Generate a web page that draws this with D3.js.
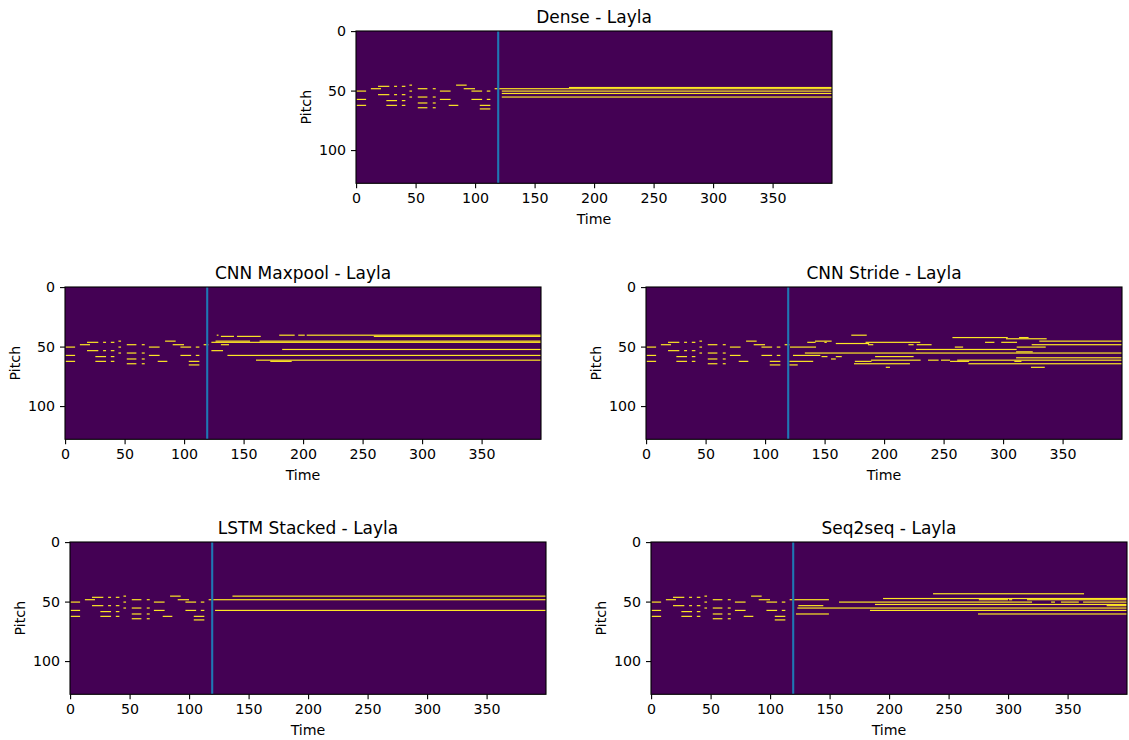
<!DOCTYPE html>
<html lang="en">
<head>
	<meta charset="UTF-8"/>
	<title>Layla piano rolls</title>
	<style type="text/css">
		html, body {
			margin: 0;
			background: #ffffff;
		}
		svg {
			display: block;
			font-family: "DejaVu Sans", sans-serif;
		}
		.tick text {
			font-size: 14.2px;
			fill: #000000;
		}
		.axis_label {
			font-size: 14.2px;
		}
		.chart_title {
			font-size: 17px;
		}
	</style>
</head>
<body>
	<svg id="chart" width="1129" height="740"></svg>
<script src="https://d3js.org/d3.v7.min.js"></script>
<script type="text/javascript">
	const timeTicks = [0, 50, 100, 150, 200, 250, 300, 350];
	const pitchTicks = [0, 50, 100];
	const seedEnd = 119;

	// notes are [pitch, start, end]
	const seedNotes = [
		[50, 0, 8], [57, 0, 8], [62, 0, 8], [48, 12, 20.5], [46, 18, 27.5], [53, 18, 27.5],
		[58, 25, 34], [62, 25, 34], [46, 31.5, 34], [53, 31.5, 34],
		[46, 38, 41], [53, 38, 41], [58, 38, 41], [62, 38, 41],
		[45, 44.4, 46.6], [50, 44.4, 46.6], [55, 44.4, 46.6],
		[48, 51.4, 59.5], [55, 51.4, 59.5], [60, 51.4, 59.5], [64, 51.4, 59.5],
		[48, 64, 66.5], [55, 64, 66.5], [60, 64, 66.5], [64, 64, 66.5],
		[50, 70, 79], [57, 70, 79], [62, 77.4, 85.5], [45, 83.6, 92.5], [48, 90, 99.5],
		[50, 96.5, 105.5], [57, 96.5, 105.5], [50, 109.4, 112.4], [57, 109.4, 112.4],
		[62, 103.5, 112.4], [65, 103.5, 112.4], [48, 116, 120]
	];
	const denseNotes = [
		[48, 120, 399.5], [47, 178.5, 399.5], [50, 122, 399.5], [52, 122, 399.5], [55, 122, 399.5]
	];
	const maxpoolNotes = [
		[40, 127, 128.5], [41, 130.5, 141.5], [41, 144, 164], [40, 179.5, 192.5], [40, 195.5, 201],
		[40, 202.6, 399.5], [41, 259, 399.5], [45, 126, 155], [45, 163, 399.5], [46, 122.5, 399.5],
		[48, 130.5, 137.3], [53, 122.5, 132.3], [52, 182, 399.5], [57, 136, 399.5],
		[61, 160, 399.5], [62, 172, 190]
	];
	const strideNotes = [
		[40, 172, 185], [46, 135, 142], [45, 141.5, 155.5], [46, 149.4, 151.4], [47, 159, 187],
		[46, 184, 230], [48, 186, 190.5], [48, 220, 224.4], [48, 227, 239.5], [52, 226.4, 311],
		[50, 120.5, 142.4], [50, 259, 266], [50, 311, 335.4], [55, 133, 399.5], [57, 123, 146],
		[58, 147, 152], [58, 159, 164], [58, 192, 224.4], [60, 155, 159], [61, 188.6, 230.3],
		[61, 236.5, 245.4], [61, 247.4, 255], [62, 120, 140], [62, 175, 189], [64, 174.3, 221.3],
		[65, 120, 127], [67, 201, 204.5], [42, 257, 303.5], [43, 302, 336.2], [42, 313, 321],
		[45, 330, 399.5], [46, 284.4, 292.3], [46, 298, 311.3], [48, 323.6, 399.5], [54, 310.5, 324.5],
		[59, 310.5, 399.5], [61, 261, 399.5], [62, 255, 271], [62, 309, 315], [64, 270.4, 399.5],
		[67, 323, 334.6]
	];
	const lstmNotes = [
		[48, 120, 399.5], [45, 136, 399.5], [57, 121.4, 399.5]
	];
	const seq2seqNotes = [
		[43, 236.5, 363.4], [48, 120, 149], [47, 194.5, 399.5], [48, 275, 299.5], [48, 300.4, 303],
		[48, 315.5, 399.5], [50, 157.5, 319.7], [50, 335.7, 339], [50, 344, 359], [50, 362.6, 399.5],
		[52, 187.7, 399.5], [53, 382.4, 399.5], [53, 123.3, 144.3], [55, 122.5, 399.5], [57, 183.5, 399.5],
		[60, 121.3, 149], [60, 274.3, 399.5]
	];

	const axWidth = 476;
	const axHeight = 152.3;

	const svg = d3.select('#chart');

	const xScale = d3.scaleLinear().domain([-0.5, 399.5]).range([0, axWidth]);
	const yScale = d3.scaleLinear().domain([-0.5, 127.5]).range([0, axHeight]);

	function drawPanel(title, notes, left, top, idx) {
		const g = svg.append('g').attr('transform', `translate(${left}, ${top})`);

		g.append('rect')
			.attr('width', axWidth)
			.attr('height', axHeight)
			.attr('fill', '#440154');

		const clipId = `clip_${idx}`;
		g.append('clipPath').attr('id', clipId)
			.append('rect')
			.attr('width', axWidth)
			.attr('height', axHeight);

		g.append('g')
			.attr('clip-path', `url(#${clipId})`)
			.selectAll('rect')
			.data(seedNotes.concat(notes))
			.enter()
			.append('rect')
			.attr('x', (d) => xScale(d[1]))
			.attr('y', (d) => yScale(d[0] - 0.5))
			.attr('width', (d) => xScale(d[2]) - xScale(d[1]))
			.attr('height', (d) => yScale(d[0] + 0.5) - yScale(d[0] - 0.5))
			.attr('fill', '#fde725');

		// seed / generated boundary
		g.append('line')
			.attr('x1', xScale(seedEnd))
			.attr('x2', xScale(seedEnd))
			.attr('y1', 0)
			.attr('y2', axHeight)
			.attr('stroke', '#1f77b4')
			.attr('stroke-width', 2.1);

		const xAxis = g.append('g')
			.attr('transform', `translate(0, ${axHeight})`)
			.call(d3.axisBottom(xScale).tickValues(timeTicks).tickSizeOuter(0).tickSize(5).tickPadding(5).offset(0));
		const yAxis = g.append('g')
			.call(d3.axisLeft(yScale).tickValues(pitchTicks).tickSizeOuter(0).tickSize(5).tickPadding(5).offset(0));
		[xAxis, yAxis].forEach((a) => {
			a.attr('font-family', null).attr('font-size', null);
			a.select('.domain').remove();
			a.selectAll('.tick line').attr('stroke', '#000').attr('stroke-width', 1.1);
		});

		// spines
		g.append('rect')
			.attr('width', axWidth)
			.attr('height', axHeight)
			.attr('fill', 'none')
			.attr('stroke', '#000')
			.attr('stroke-width', 1.1);

		g.append('text')
			.attr('class', 'chart_title')
			.attr('x', axWidth / 2)
			.attr('y', -8.5)
			.attr('text-anchor', 'middle')
			.text(title);

		g.append('text')
			.attr('class', 'axis_label')
			.attr('x', axWidth / 2)
			.attr('y', axHeight + 40.5)
			.attr('text-anchor', 'middle')
			.text('Time');

		g.append('text')
			.attr('class', 'axis_label')
			.attr('transform', `translate(-45, ${axHeight / 2}) rotate(-90)`)
			.attr('text-anchor', 'middle')
			.text('Pitch');
	}

	drawPanel('Dense - Layla', denseNotes, 356, 31, 0);
	drawPanel('CNN Maxpool - Layla', maxpoolNotes, 65, 287, 1);
	drawPanel('CNN Stride - Layla', strideNotes, 646, 287, 2);
	drawPanel('LSTM Stacked - Layla', lstmNotes, 70, 542, 3);
	drawPanel('Seq2seq - Layla', seq2seqNotes, 651, 542, 4);
</script>
</body>
</html>
